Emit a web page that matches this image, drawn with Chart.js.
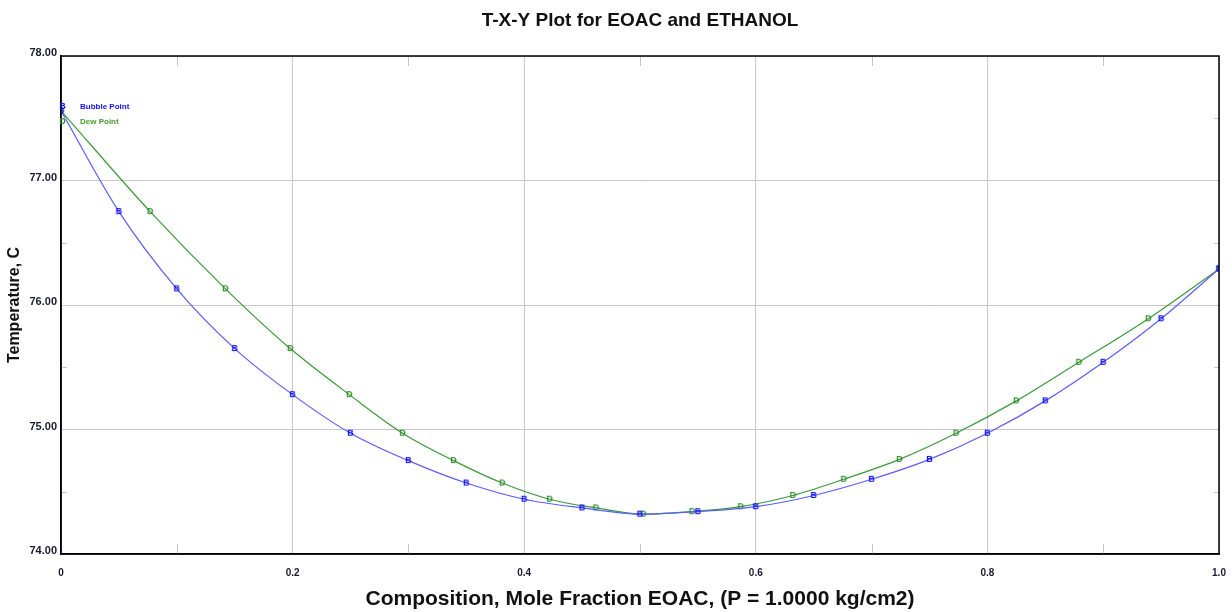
<!DOCTYPE html>
<html>
<head>
<meta charset="utf-8">
<script src="https://cdn.jsdelivr.net/npm/chart.js@4/dist/chart.umd.min.js"></script>
<style>
    html, body { margin: 0; padding: 0; background: #fff; }
    #wrap { width: 1232px; height: 612px; }
</style>
</head>
<body>
<div id="wrap"><canvas id="txy"></canvas></div>
<script>
// liquid composition (bubble) and vapour composition (dew), same temperatures
const bubbleX = [0, 0.05, 0.1, 0.15, 0.2, 0.25, 0.3, 0.35, 0.4, 0.45, 0.5,
                 0.55, 0.6, 0.65, 0.7, 0.75, 0.8, 0.85, 0.9, 0.95, 1.0];
const dewX = [0, 0.077, 0.142, 0.198, 0.249, 0.295, 0.339, 0.381, 0.422, 0.462, 0.503,
              0.545, 0.587, 0.632, 0.676, 0.724, 0.773, 0.825, 0.879, 0.939, 1.0];
const temps = [77.56, 76.75, 76.13, 75.65, 75.28, 74.97, 74.75, 74.57, 74.44, 74.37, 74.32,
               74.34, 74.38, 74.47, 74.60, 74.76, 74.97, 75.23, 75.54, 75.89, 76.29];

const xTicks = ['0', '0.2', '0.4', '0.6', '0.8', '1.0'];
const yTicks = ['74.00', '75.00', '76.00', '77.00', '78.00'];

const blueLine = '#5c5cff';
const blueMark = '#1010ff';
const greenLine = '#3a9a3a';
const greenMark = '#2a8c2a';

function letterMarker(ch, color) {
    const c = document.createElement('canvas');
    c.width = 11;
    c.height = 11;
    const g = c.getContext('2d');
    g.font = 'bold 9px "Liberation Sans", Arial';
    g.fillStyle = color;
    g.textAlign = 'center';
    g.textBaseline = 'middle';
    g.fillText(ch, 5.5, 6);
    return c;
}

const markB = letterMarker('B', blueMark);
const markD = letterMarker('D', greenMark);

const isMajor = (v, step) => Math.abs(v / step - Math.round(v / step)) < 1e-6;

// minor ticks inside the frame, legend, and frame box
const extras = {
    id: 'extras',
    afterDraw(chart) {
        const ctx = chart.ctx;
        const a = chart.chartArea;
        const xs = chart.scales.x;
        const ys = chart.scales.y;
        ctx.save();
        ctx.strokeStyle = '#c4c4c4';
        ctx.lineWidth = 1;
        xs.ticks.forEach(t => {
            if (isMajor(t.value, 0.2)) return;
            const px = Math.round(xs.getPixelForValue(t.value)) + 0.5;
            ctx.beginPath();
            ctx.moveTo(px, a.bottom); ctx.lineTo(px, a.bottom - 10);
            ctx.moveTo(px, a.top); ctx.lineTo(px, a.top + 10);
            ctx.stroke();
        });
        ys.ticks.forEach(t => {
            if (isMajor(t.value, 1)) return;
            const py = Math.round(ys.getPixelForValue(t.value)) + 0.5;
            ctx.beginPath();
            ctx.moveTo(a.left, py); ctx.lineTo(a.left + 6, py);
            ctx.moveTo(a.right, py); ctx.lineTo(a.right - 5, py);
            ctx.stroke();
        });

        ctx.strokeStyle = '#000';
        ctx.lineWidth = 1.5;
        ctx.strokeRect(a.left, a.top, a.right - a.left, a.bottom - a.top);

        ctx.font = 'bold 8px "Liberation Sans", Arial';
        ctx.textBaseline = 'middle';
        ctx.textAlign = 'left';
        ctx.drawImage(markB, a.left - 4, 101);
        ctx.drawImage(markD, a.left - 4, 116);
        ctx.fillStyle = blueMark;
        ctx.fillText('Bubble Point', a.left + 19, 107);
        ctx.fillStyle = '#4a9a2a';
        ctx.fillText('Dew Point', a.left + 19, 122);
        ctx.restore();
    }
};

const ctx = document.getElementById('txy').getContext('2d');
const chart = new Chart(ctx, {
    type: 'line',
    data: {
        datasets: [{
            label: 'Bubble Point',
            data: bubbleX.map((x, i) => ({ x: x, y: temps[i] })),
            borderColor: blueLine,
            borderWidth: 1.2,
            pointStyle: markB,
            cubicInterpolationMode: 'monotone',
            fill: false
        }, {
            label: 'Dew Point',
            data: dewX.map((x, i) => ({ x: x, y: temps[i] })),
            borderColor: greenLine,
            borderWidth: 1.2,
            pointStyle: markD,
            cubicInterpolationMode: 'monotone',
            fill: false
        }]
    },
    options: {
        responsive: true,
        maintainAspectRatio: false,
        animation: false,
        layout: { padding: { left: 0, right: 13, top: 0, bottom: 0 } },
        plugins: {
            legend: { display: false },
            tooltip: { enabled: false },
            title: {
                display: true,
                text: 'T-X-Y Plot for EOAC and ETHANOL',
                fullSize: false,
                color: '#111',
                font: { family: '"Liberation Sans", Arial', size: 19, weight: 'bold' },
                padding: { top: 9, bottom: 24.2 }
            }
        },
        scales: {
            x: {
                type: 'linear',
                min: 0,
                max: 1,
                afterFit: s => {
                    s.height = 58;
                    s.paddingLeft = 0;
                    s.paddingRight = 0;
                },
                border: { display: true, color: '#000', width: 1.5 },
                grid: {
                    drawTicks: false,
                    color: c => (isMajor(c.tick.value, 0.2) ? '#c8c8c8' : 'rgba(0,0,0,0)')
                },
                ticks: {
                    stepSize: 0.1,
                    padding: 13,
                    maxRotation: 0,
                    autoSkip: false,
                    color: '#1a1a2e',
                    font: { family: '"Liberation Sans", Arial', size: 10, weight: 'bold' },
                    callback: v => (isMajor(v, 0.2) ? xTicks[Math.round(v / 0.2)] : '')
                },
                title: {
                    display: true,
                    text: 'Composition, Mole Fraction EOAC, (P = 1.0000 kg/cm2)',
                    color: '#111',
                    font: { family: '"Liberation Sans", Arial', size: 21, weight: 'bold' },
                    padding: { top: 0, bottom: 0 }
                }
            },
            y: {
                min: 74,
                max: 78,
                afterFit: s => { s.width = 61; },
                border: { display: true, color: '#000', width: 1.5 },
                grid: {
                    drawTicks: false,
                    color: c => (isMajor(c.tick.value, 1) ? '#c8c8c8' : 'rgba(0,0,0,0)')
                },
                ticks: {
                    stepSize: 0.5,
                    padding: 4,
                    labelOffset: -3,
                    autoSkip: false,
                    color: '#1a1a2e',
                    font: { family: '"Liberation Sans", Arial', size: 11, weight: 'bold' },
                    callback: v => (isMajor(v, 1) ? yTicks[Math.round(v - 74)] : '')
                },
                title: {
                    display: true,
                    text: 'Temperature, C',
                    color: '#111',
                    font: { family: '"Liberation Sans", Arial', size: 16, weight: 'bold' },
                    padding: { top: 5, bottom: 0 }
                }
            }
        }
    },
    plugins: [extras]
});
</script>
</body>
</html>
